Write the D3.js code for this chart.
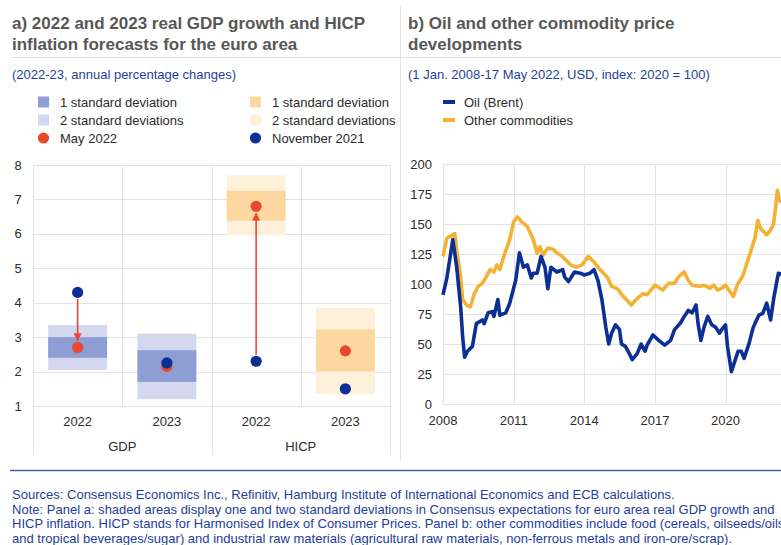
<!DOCTYPE html>
<html>
<head>
<meta charset="utf-8">
<script src="https://cdn.jsdelivr.net/npm/d3@7"></script>
<style>
  body { margin: 0; background: #fff; }
  svg { display: block; font-family: "Liberation Sans", Arial, Helvetica, sans-serif; }
</style>
</head>
<body>
<svg id="chart" width="781" height="545"></svg>
<script>
// ---- Panel a: consensus forecasts (annual % changes) ----
const groups = ["GDP", "HICP"];
const years = ["2022", "2023"];
const sd2Low  = [2.05, 1.20, 5.95, 1.35];
const sd2High = [3.35, 3.10, 7.70, 3.85];
const sd1Low  = [2.40, 1.70, 6.38, 2.00];
const sd1High = [3.00, 2.62, 7.25, 3.22];
const may2022 = [2.70, 2.15, 6.80, 2.60];
const nov2021 = [4.30, 2.25, 2.30, 1.50];
const revisionArrow = [true, false, true, false];
const yTicksA = [1, 2, 3, 4, 5, 6, 7, 8];

// ---- Panel b: commodity prices (index) ----
const oil = [
  ["2008-01-01", 91], ["2008-03-01", 105], ["2008-06-01", 137], ["2008-08-01", 114],
  ["2008-10-01", 81], ["2008-11-01", 56], ["2008-12-01", 39], ["2009-01-15", 44],
  ["2009-04-01", 48], ["2009-06-01", 67], ["2009-09-01", 70], ["2009-10-01", 67],
  ["2009-12-01", 76], ["2010-02-01", 77], ["2010-03-01", 73], ["2010-05-01", 87],
  ["2010-06-01", 74], ["2010-09-01", 76], ["2010-11-01", 84], ["2011-02-01", 103],
  ["2011-04-01", 126], ["2011-06-01", 114], ["2011-08-01", 116], ["2011-10-01", 105],
  ["2011-11-01", 109], ["2012-01-01", 109], ["2012-03-01", 123], ["2012-05-01", 114],
  ["2012-06-15", 96], ["2012-08-01", 114], ["2012-11-01", 110], ["2013-02-01", 112],
  ["2013-03-01", 106], ["2013-05-01", 102], ["2013-08-01", 110], ["2013-11-01", 109],
  ["2014-01-01", 107.5], ["2014-04-01", 109], ["2014-06-01", 112], ["2014-08-01", 103],
  ["2014-10-01", 87], ["2014-12-01", 64], ["2015-01-15", 50], ["2015-03-01", 59],
  ["2015-05-01", 66], ["2015-07-01", 62], ["2015-08-01", 50], ["2015-10-01", 48],
  ["2015-12-01", 42], ["2016-01-15", 37], ["2016-04-01", 42], ["2016-06-01", 50],
  ["2016-08-01", 44], ["2016-09-01", 49], ["2016-12-01", 57.5], ["2017-03-01", 53],
  ["2017-06-01", 49], ["2017-09-01", 53], ["2017-11-01", 62], ["2018-02-01", 67.5],
  ["2018-04-01", 73], ["2018-06-01", 78], ["2018-08-01", 76], ["2018-10-01", 82.5],
  ["2018-11-01", 67], ["2018-12-15", 53], ["2019-02-01", 64], ["2019-04-01", 73],
  ["2019-06-01", 66], ["2019-08-01", 64], ["2019-10-01", 59], ["2019-11-01", 62],
  ["2020-01-01", 66], ["2020-02-01", 48], ["2020-04-01", 27], ["2020-06-01", 37],
  ["2020-07-15", 44], ["2020-09-01", 44], ["2020-10-15", 38], ["2021-01-01", 50.5],
  ["2021-03-01", 63], ["2021-04-01", 67], ["2021-06-01", 74], ["2021-08-01", 75.5],
  ["2021-10-01", 84], ["2021-12-01", 70], ["2022-01-15", 87], ["2022-03-01", 100.5],
  ["2022-04-01", 109], ["2022-05-17", 108]
];
const otherCommodities = [
  ["2008-01-01", 123], ["2008-03-01", 138], ["2008-04-15", 139.5], ["2008-07-01", 142],
  ["2008-08-01", 128], ["2008-10-01", 106], ["2008-11-01", 87], ["2009-01-01", 82.5],
  ["2009-03-01", 81], ["2009-05-01", 92], ["2009-07-01", 98], ["2009-09-01", 100.5],
  ["2009-11-01", 106], ["2010-01-01", 112], ["2010-03-01", 110], ["2010-04-15", 116],
  ["2010-06-01", 112], ["2010-08-01", 123], ["2010-11-01", 137], ["2011-01-01", 152],
  ["2011-03-01", 156], ["2011-05-01", 152], ["2011-08-01", 148], ["2011-11-01", 137],
  ["2012-01-01", 125.5], ["2012-02-15", 131], ["2012-04-01", 124], ["2012-06-15", 130],
  ["2012-09-01", 129], ["2012-11-01", 126], ["2013-01-01", 124], ["2013-03-01", 121],
  ["2013-06-01", 116], ["2013-09-01", 114], ["2013-12-01", 116], ["2014-03-01", 123],
  ["2014-06-01", 118.5], ["2014-09-01", 112], ["2015-01-01", 105], ["2015-03-01", 98],
  ["2015-06-01", 96], ["2015-09-01", 89.5], ["2016-01-01", 82.5], ["2016-04-01", 88],
  ["2016-07-01", 92], ["2016-09-01", 91], ["2017-01-01", 99], ["2017-05-01", 95],
  ["2017-08-01", 100.5], ["2017-11-01", 100.5], ["2018-01-01", 106], ["2018-04-01", 110],
  ["2018-06-01", 103], ["2018-08-01", 99], ["2018-12-01", 98], ["2019-02-01", 99],
  ["2019-05-01", 96.5], ["2019-07-01", 99], ["2019-09-01", 95], ["2019-11-01", 96.5],
  ["2020-01-01", 99], ["2020-05-01", 89.5], ["2020-07-01", 99], ["2020-10-01", 107.5],
  ["2021-01-01", 123], ["2021-04-01", 138], ["2021-05-15", 153], ["2021-07-01", 146],
  ["2021-10-01", 141], ["2021-12-01", 145], ["2022-01-15", 150], ["2022-02-15", 163],
  ["2022-03-15", 178], ["2022-04-15", 170], ["2022-05-17", 168]
];
const yTicksB = [0, 25, 50, 75, 100, 125, 150, 175, 200];
const xTickYears = [2008, 2011, 2014, 2017, 2020];

// ---- Texts ----
const titleA = ["a) 2022 and 2023 real GDP growth and HICP", "inflation forecasts for the euro area"];
const subtitleA = "(2022-23, annual percentage changes)";
const titleB = ["b) Oil and other commodity price", "developments"];
const subtitleB = "(1 Jan. 2008-17 May 2022, USD, index: 2020 = 100)";
const footnotes = [
  "Sources: Consensus Economics Inc., Refinitiv, Hamburg Institute of International Economics and ECB calculations.",
  "Note: Panel a: shaded areas display one and two standard deviations in Consensus expectations for euro area real GDP growth and",
  "HICP inflation. HICP stands for Harmonised Index of Consumer Prices. Panel b: other commodities include food (cereals, oilseeds/oils",
  "and tropical beverages/sugar) and industrial raw materials (agricultural raw materials, non-ferrous metals and iron-ore/scrap)."
];

const col = {
  grid: "#e3e3e3", text: "#2b2b2b", title: "#575757", sub: "#1f3f9e",
  navy: "#0b2f94", red: "#ea472f", yellow: "#f4b234",
  blue1: "#8e9dd3", blue2: "#d3d8ee", orange1: "#fcd8a0", orange2: "#fef0d9",
  rule: "#4d5b97", note: "#1e3d9c"
};
const fills = {
  GDP: [col.blue1, col.blue2],
  HICP: [col.orange1, col.orange2]
};

const svg = d3.select("#chart");
svg.append("rect").attr("width", 781).attr("height", 545).attr("fill", "#fff");

// ---------- headers ----------
function header(x, lines, sub) {
  const g = svg.append("g");
  lines.forEach((t, i) => {
    g.append("text").attr("x", x).attr("y", 29 + i * 21)
      .attr("font-size", 17).attr("font-weight", "bold").attr("fill", col.title).text(t);
  });
  g.append("text").attr("x", x).attr("y", 79).attr("font-size", 13)
    .attr("fill", col.sub).text(sub);
}
header(12, titleA, subtitleA);
header(408, titleB, subtitleB);

svg.append("line").attr("x1", 12).attr("x2", 781).attr("y1", 57.5).attr("y2", 57.5)
  .attr("stroke", "#dedede");
svg.append("line").attr("x1", 400.5).attr("x2", 400.5).attr("y1", 6).attr("y2", 460)
  .attr("stroke", "#e2e2e2");

// ---------- panel a ----------
const cats = groups.flatMap(g => years.map(y => ({ group: g, year: y, key: g + " " + y })));
const xA = d3.scaleBand().domain(cats.map(d => d.key)).range([33, 390]);
const yA = d3.scaleLinear().domain([1, 8]).range([406, 165]);
const gA = svg.append("g");

gA.selectAll(".hgrid").data(yTicksA).join("line")
  .attr("x1", xA.range()[0]).attr("x2", xA.range()[1])
  .attr("y1", d => Math.round(yA(d)) + 0.5).attr("y2", d => Math.round(yA(d)) + 0.5)
  .attr("stroke", col.grid);

// vertical separators: category edges within the plot, group edges down to the group labels
const edges = cats.map(d => xA(d.key)).concat([xA.range()[1]]);
edges.forEach((x, i) => {
  const groupEdge = i % years.length === 0;
  gA.append("line").attr("x1", Math.round(x) + 0.5).attr("x2", Math.round(x) + 0.5)
    .attr("y1", yA(8)).attr("y2", groupEdge ? 454 : yA(1))
    .attr("stroke", col.grid);
});

gA.selectAll(".ytick").data(yTicksA).join("text")
  .attr("x", 18).attr("y", d => yA(d)).attr("dy", "0.35em")
  .attr("text-anchor", "middle").attr("font-size", 13).attr("fill", col.text)
  .text(d => d);

const boxW = xA.bandwidth() * 0.66;
const cx = d => xA(d.key) + xA.bandwidth() / 2;

cats.forEach((d, i) => {
  gA.append("rect").attr("x", cx(d) - boxW / 2).attr("width", boxW)
    .attr("y", yA(sd2High[i])).attr("height", yA(sd2Low[i]) - yA(sd2High[i]))
    .attr("fill", fills[d.group][1]);
  gA.append("rect").attr("x", cx(d) - boxW / 2).attr("width", boxW)
    .attr("y", yA(sd1High[i])).attr("height", yA(sd1Low[i]) - yA(sd1High[i]))
    .attr("fill", fills[d.group][0]);
});

const r = 5.6;
gA.selectAll(".may").data(cats).join("circle")
  .attr("cx", cx).attr("cy", (d, i) => yA(may2022[i])).attr("r", r).attr("fill", col.red);
gA.selectAll(".nov").data(cats).join("circle")
  .attr("cx", cx).attr("cy", (d, i) => yA(nov2021[i])).attr("r", r).attr("fill", col.navy);

svg.append("defs").append("marker").attr("id", "head")
  .attr("viewBox", "0 0 10 10").attr("refX", 9).attr("refY", 5)
  .attr("markerWidth", 5).attr("markerHeight", 5).attr("markerUnits", "strokeWidth")
  .attr("orient", "auto")
  .append("path").attr("d", "M0,0 L10,5 L0,10 Z").attr("fill", col.red);

cats.forEach((d, i) => {
  if (!revisionArrow[i]) return;
  const y0 = yA(nov2021[i]), y1 = yA(may2022[i]);
  const dir = Math.sign(y1 - y0);
  gA.append("line").attr("x1", cx(d)).attr("x2", cx(d))
    .attr("y1", y0 + dir * (r + 1)).attr("y2", y1 - dir * (r + 1.5))
    .attr("stroke", col.red).attr("stroke-width", 1.6)
    .attr("marker-end", "url(#head)");
});

gA.selectAll(".cat").data(cats).join("text")
  .attr("x", cx).attr("y", 426).attr("text-anchor", "middle")
  .attr("font-size", 13).attr("fill", col.text).text(d => d.year);
groups.forEach(g => {
  const members = cats.filter(d => d.group === g);
  const x0 = xA(members[0].key), x1 = xA(members[members.length - 1].key) + xA.bandwidth();
  gA.append("text").attr("x", (x0 + x1) / 2).attr("y", 451).attr("text-anchor", "middle")
    .attr("font-size", 13).attr("fill", col.text).text(g);
});

// legend a
const legendA = [
  { label: "1 standard deviation", type: "rect", fill: col.blue1, x: 38, row: 0 },
  { label: "2 standard deviations", type: "rect", fill: col.blue2, x: 38, row: 1 },
  { label: "May 2022", type: "dot", fill: col.red, x: 38, row: 2 },
  { label: "1 standard deviation", type: "rect", fill: col.orange1, x: 250, row: 0 },
  { label: "2 standard deviations", type: "rect", fill: col.orange2, x: 250, row: 1 },
  { label: "November 2021", type: "dot", fill: col.navy, x: 250, row: 2 }
];
legendA.forEach(d => {
  const y = 102 + d.row * 18;
  if (d.type === "rect") {
    svg.append("rect").attr("x", d.x).attr("y", y - 5.5).attr("width", 11).attr("height", 11)
      .attr("fill", d.fill);
  } else {
    svg.append("circle").attr("cx", d.x + 5.5).attr("cy", y).attr("r", r).attr("fill", d.fill);
  }
  svg.append("text").attr("x", d.x + 22).attr("y", y).attr("dy", "0.35em")
    .attr("font-size", 13).attr("fill", col.text).text(d.label);
});

// ---------- panel b ----------
const parse = d3.timeParse("%Y-%m-%d");
const xB = d3.scaleTime().domain([parse("2008-01-01"), parse("2022-05-17")]).range([443, 781.4]);
const yB = d3.scaleLinear().domain([0, 200]).range([404, 164]);
const gB = svg.append("g");

gB.selectAll(".hgridB").data(yTicksB).join("line")
  .attr("x1", 443).attr("x2", 781)
  .attr("y1", d => Math.round(yB(d)) + 0.5).attr("y2", d => Math.round(yB(d)) + 0.5)
  .attr("stroke", col.grid);
gB.selectAll(".vgridB").data(xTickYears).join("line")
  .attr("x1", d => Math.round(xB(new Date(d, 0, 1))) + 0.5)
  .attr("x2", d => Math.round(xB(new Date(d, 0, 1))) + 0.5)
  .attr("y1", yB(200)).attr("y2", yB(0)).attr("stroke", col.grid);

gB.selectAll(".ytickB").data(yTicksB).join("text")
  .attr("x", 432).attr("y", d => yB(d)).attr("dy", "0.35em").attr("text-anchor", "end")
  .attr("font-size", 13).attr("fill", col.text).text(d => d);
gB.selectAll(".xtickB").data(xTickYears).join("text")
  .attr("x", d => xB(new Date(d, 0, 1))).attr("y", 425).attr("text-anchor", "middle")
  .attr("font-size", 13).attr("fill", col.text).text(d => d);

const line = d3.line().x(d => xB(parse(d[0]))).y(d => yB(d[1])).curve(d3.curveLinear);
gB.append("path").datum(otherCommodities).attr("d", line).attr("fill", "none")
  .attr("stroke", col.yellow).attr("stroke-width", 3.6).attr("stroke-linejoin", "round");
gB.append("path").datum(oil).attr("d", line).attr("fill", "none")
  .attr("stroke", col.navy).attr("stroke-width", 3.6).attr("stroke-linejoin", "round");

// legend b
[{ label: "Oil (Brent)", c: col.navy }, { label: "Other commodities", c: col.yellow }].forEach((d, i) => {
  const y = 102 + i * 18;
  svg.append("line").attr("x1", 443).attr("x2", 455).attr("y1", y).attr("y2", y)
    .attr("stroke", d.c).attr("stroke-width", 4);
  svg.append("text").attr("x", 464).attr("y", y).attr("dy", "0.35em")
    .attr("font-size", 13).attr("fill", col.text).text(d.label);
});

// ---------- footer ----------
svg.append("line").attr("x1", 10).attr("x2", 781).attr("y1", 470.5).attr("y2", 470.5)
  .attr("stroke", col.rule).attr("stroke-width", 1.3);
const notes = svg.append("g").attr("font-family", "'Liberation Sans Narrow', 'Arial Narrow', 'Liberation Sans', sans-serif");
const noteTexts = footnotes.map((t, i) =>
  notes.append("text").attr("x", 0).attr("y", 499 + i * 14.6)
    .attr("font-size", 12).attr("fill", col.note).text(t));
// condense the notes to the column width
const w0 = noteTexts[0].node().getComputedTextLength();
const k = 663 / w0;
notes.attr("transform", `translate(12,0) scale(${k},1)`);
</script>
</body>
</html>
